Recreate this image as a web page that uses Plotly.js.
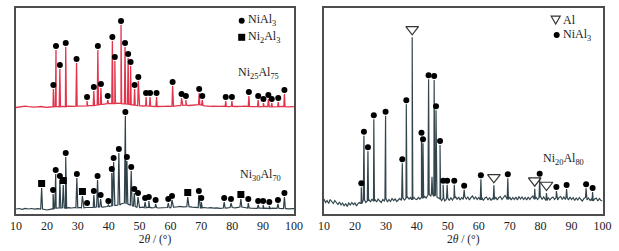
<!DOCTYPE html>
<html><head><meta charset="utf-8">
<script src="https://cdn.plot.ly/plotly-3.0.1.min.js"></script>
<style>html,body{margin:0;padding:0;background:#fff}#chart{width:619px;height:251px}</style>
</head><body><div id="chart"></div>
<script>
// ---------- DATA ----------
// Ni25Al75 (red, upper pattern of left panel): peak positions (2θ) / intensities (a.u.) / phase
const redPeakPos = [22.1,22.95,24.2,26.1,29.6,33.0,35.2,36.5,37.5,39.7,41.2,42.0,44.0,45.3,46.3,47.1,48.4,49.6,52.1,53.4,55.5,60.7,63.6,65.0,69.3,70.3,77.9,79.9,85.4,88.4,90.1,91.7,92.8,94.9,96.9];
const redPeakVal = [18,57,38,60,44,6,16,57,19,7,66,46,82,60,49,41,18,26,10,10,10,21,9,7,14,7,6,6,11,7,4,8,4,5,13];
const redPhase   = ['n','n','n','n','n','n','n','n','n','n','n','n','n','n','n','n','n','n','n','n','n','n','n','n','n','n','n','n','n','n','n','n','n','n','n'];
// background of Ni25Al75, 2θ = 10..100 step 1
const redBg = [-0.5,0,0.5,0.8,0.3,0,-0.2,0.2,0.5,0,-0.4,0,0.3,0.5,0.2,0.6,0.4,0.8,0.5,0.6,0.9,1,0.7,1.2,1.4,1.6,1.9,2.2,2.6,3,3.4,3.6,3.5,3.8,3.4,3.2,2.8,2.4,2,1.6,1.3,1,1.2,0.8,0.6,0.9,0.5,0.3,0.6,0.8,1,0.7,1.1,1.4,1.6,1.8,1.5,1.9,2.2,2.4,1.8,1.2,0.8,0.6,0.9,0.5,0.7,0.9,0.6,0.4,0.7,0.5,0.3,0.6,0.8,0.5,0.3,0.6,0.4,0.2,0.5,0.7,0.4,0.2,0.5,0.3,0.6,0.4,0.2,0.5,0.3];

// Ni30Al70 (dark, lower pattern of left panel)
const blkPeakPos = [18.3,22.0,22.85,24.2,25.3,26.1,29.7,31.5,33.0,35.2,36.4,37.4,39.9,41.0,41.6,43.3,45.4,45.9,47.3,48.3,49.5,51.8,53.0,55.2,59.3,60.5,65.6,69.2,70.0,77.4,79.6,82.8,85.2,88.4,90.0,92.0,94.8,96.9];
const blkPeakVal = [21,15,35,29,24,52,31,13,2,14,29,10,4,36,47,56,93,48,38,16,12,7,8,5,6,9,12,14,7,7,6,10,6,4,4,3,5,12];
const blkPhase   = ['s','n','n','n','s','n','n','s','n','n','n','n','n','n','n','n','n','n','n','n','n','n','n','n','n','n','s','n','n','n','n','s','n','n','n','n','n','n'];
const blkBg = [0,0.5,-0.3,0.6,0,0.5,-0.2,0.4,0,-0.5,-1,-0.4,0.3,0.8,1,1.2,0.8,1.3,1,1.5,1.2,1.6,1.2,1.5,1.8,1.5,2,2.2,1.8,2.3,2.5,3,3.5,4,5,6,5,4,2.5,2,1.5,1.8,1.3,1.6,1.2,1.5,1,1.4,1.1,1.5,1.2,1.8,2,2.6,2.2,2.8,2.3,1.8,2,1.5,1.2,1.5,1,1.3,0.8,1.2,0.7,1,0.8,1.2,1.5,1.2,1.8,2,1.5,1,0.8,1.1,0.7,1,0.6,0.9,0.5,0.8,0.4,0.7,0.3,0.6,0.2,0.5,0.3];

// Ni20Al80 (right panel)
const rgtPeakPos = [22.05,22.9,24.2,26.1,29.9,35.3,36.6,38.5,41.5,42.0,43.8,44.9,45.6,46.2,47.5,48.5,49.8,52.1,55.3,60.7,64.9,69.4,78.1,79.7,81.9,85.1,88.4,94.7,96.8];
const rgtPeakVal = [13.7,65.3,49.7,81.7,85.3,37.7,96.7,163.7,64.3,57.7,121.7,24.3,121,90.7,56,16.3,16.3,16.3,11.3,21.7,15.7,22.7,12.3,23.3,8,10,12,12.7,9];
const rgtPhase   = ['n','n','n','n','n','n','n','t','n','n','n','x','n','n','n','n','n','n','n','n','t','n','t','n','t','n','n','n','n'];
// background of Ni20Al80, 2θ = 10..100 step 0.5
const rgtBg = [2,-1.5,0.5,-2.5,1.5,-0.5,-2.5,0.5,-1.5,-3.5,-1,-4,-2,-5,-2.5,-5.5,-2,-4,-1.5,-3.5,-2,-5,-2.5,-1.5,-2.5,-0.5,1,-1.5,0,1.5,-1,2,0,1.5,-1,2,0,-1.5,1.5,0,2,-1,1.5,-0.5,2.5,0.5,2,-0.5,1,2.5,0.5,3,1,3,4,2,3.5,1.5,4,2,1.5,3.5,2,4,3,4.5,3,5.5,6.5,5,7,5,6,4,3,2,0.5,3,0,1.5,3,0.5,3.5,1,3,4.5,1.5,4,1,3.5,1.5,4.5,2,4,1,3.5,5,2,4,1.5,3.5,1,3.5,0.5,3,4,1,3.5,0.5,3,1.5,4,1,3.5,4.5,1.5,4,5.5,3,1.5,4,1,3.5,1.5,4,1,4.5,2,4,1.5,3.5,1,4,1.5,3.5,5,2,4,1.5,3.5,4.5,1.5,4,1.5,0.5,3.5,1,3,4,1.5,3.5,1,3.5,4.5,1.5,4,1.5,3.5,1,4,1.5,3.5,0.5,3,1,3.5,1.5,0,2.5,3.5,1,3,0.5,2.5,0,2,3,0,2.5,0.5,0];

const xTicks = [10,20,30,40,50,60,70,80,90,100];
const legendLeft  = ['NiAl<sub>3</sub>','Ni<sub>2</sub>Al<sub>3</sub>'];
const legendRight = ['Al','NiAl<sub>3</sub>'];
const sampleNames = ['Ni<sub>25</sub>Al<sub>75</sub>','Ni<sub>30</sub>Al<sub>70</sub>','Ni<sub>20</sub>Al<sub>80</sub>'];

// ---------- BUILD ----------
const W = 619, H = 251;
const px = x => x / W, py = y => 1 - y / H;
const FONT = 'Liberation Serif';

function pattern(x0, step, bg, pos, val, hw, offset) {
  const pts = bg.map((v, i) => [x0 + i * step, v]);
  pos.forEach((p, k) => {
    const near = bg[Math.min(bg.length - 1, Math.max(0, Math.round((p - x0) / step)))];
    pts.push([p - hw, near], [p, val[k]], [p + hw, near]);
  });
  pts.sort((a, b) => a[0] - b[0]);
  return { x: pts.map(d => d[0]), y: pts.map(d => d[1] + offset) };
}
function marks(pos, val, phase, code, offset, lift) {
  const x = [], y = [];
  pos.forEach((p, k) => { if (phase[k] === code) { x.push(p); y.push(val[k] + offset + lift); } });
  return { x, y };
}

const RED_OFF = 107, BLK_OFF = 5, RGT_OFF = 13;
const red = pattern(10, 1, redBg, redPeakPos, redPeakVal, 0.2, RED_OFF);
const blk = pattern(10, 1, blkBg, blkPeakPos, blkPeakVal, 0.3, BLK_OFF);
const rgt = pattern(10, 0.5, rgtBg, rgtPeakPos, rgtPeakVal, 0.2, RGT_OFF);

const traces = [
  { x: blk.x, y: blk.y, mode: 'lines', line: { color: '#2f4149', width: 1.2 }, xaxis: 'x', yaxis: 'y' },
  { x: red.x, y: red.y, mode: 'lines', line: { color: '#e4344c', width: 1.3 }, xaxis: 'x', yaxis: 'y' },
  { x: rgt.x, y: rgt.y, mode: 'lines', line: { color: '#33464e', width: 1.2 }, xaxis: 'x2', yaxis: 'y2' },
];
const dotStyle = { symbol: 'circle', size: 6, color: '#000' };
const sqStyle  = { symbol: 'square', size: 7, color: '#000' };
const triStyle = { symbol: 'triangle-down-open', size: 11, color: '#333', line: { width: 1.2, color: '#333' } };
[
  [marks(redPeakPos, redPeakVal, redPhase, 'n', RED_OFF, 4), dotStyle, 'x', 'y'],
  [marks(blkPeakPos, blkPeakVal, blkPhase, 'n', BLK_OFF, 4), dotStyle, 'x', 'y'],
  [marks(blkPeakPos, blkPeakVal, blkPhase, 's', BLK_OFF, 4.5), sqStyle, 'x', 'y'],
  [marks(rgtPeakPos, rgtPeakVal, rgtPhase, 'n', RGT_OFF, 4), dotStyle, 'x2', 'y2'],
  [marks(rgtPeakPos, rgtPeakVal, rgtPhase, 't', RGT_OFF, 8), triStyle, 'x2', 'y2'],
].forEach(([m, st, xa, ya]) => traces.push({ x: m.x, y: m.y, mode: 'markers', marker: st, xaxis: xa, yaxis: ya, cliponaxis: false }));

const xBase = {
  range: [10, 100], tickmode: 'linear', tick0: xTicks[0], dtick: xTicks[1] - xTicks[0], ticks: '',
  showline: true, mirror: true, linecolor: '#4d4d4d', linewidth: 1.5, showgrid: false, zeroline: false,
  tickfont: { family: FONT, size: 12, color: '#222' },
  title: { text: '2<i>θ</i> / (°)', font: { family: FONT, size: 11.5, color: '#222' }, standoff: 0 },
};
const yBase = {
  range: [0, 206.5], showticklabels: false, ticks: '', showgrid: false, zeroline: false,
  showline: true, mirror: true, linecolor: '#4d4d4d', linewidth: 1.5,
  domain: [py(214), py(7.5)],
};

const ann = (text, x, y) => ({ text, xref: 'paper', yref: 'paper', x: px(x), y: py(y), xanchor: 'left', yanchor: 'middle',
  showarrow: false, font: { family: FONT, size: 12, color: '#222' } });

const layout = {
  width: W, height: H, margin: { l: 0, r: 0, t: 0, b: 0 },
  paper_bgcolor: '#fff', plot_bgcolor: '#fff', showlegend: false,
  font: { family: FONT, size: 12 },
  xaxis: Object.assign({}, xBase, { domain: [px(16), px(294)], anchor: 'y' }),
  yaxis: Object.assign({}, yBase, { anchor: 'x' }),
  xaxis2: Object.assign({}, xBase, { domain: [px(324), px(602.5)], anchor: 'y2' }),
  yaxis2: Object.assign({}, yBase, { anchor: 'x2' }),
  annotations: [
    ann(legendLeft[0], 246, 20),
    ann(legendLeft[1], 246, 37.5),
    ann(sampleNames[0], 236, 73),
    ann(sampleNames[1], 238, 175),
    ann(legendRight[0], 561, 20),
    ann(legendRight[1], 561, 35.5),
    ann(sampleNames[2], 541, 159),
  ],
  shapes: [
    { type: 'circle', xref: 'paper', yref: 'paper', x0: px(238.7), x1: px(244.7), y0: py(17.7), y1: py(23.7), fillcolor: '#000', line: { width: 0 } },
    { type: 'rect', xref: 'paper', yref: 'paper', x0: px(238.2), x1: px(245.2), y0: py(33.8), y1: py(40.8), fillcolor: '#000', line: { width: 0 } },
    { type: 'path', xref: 'paper', yref: 'paper', path: `M ${px(551.2)} ${py(16.2)} L ${px(560.2)} ${py(16.2)} L ${px(555.7)} ${py(24)} Z`, line: { color: '#333', width: 1.2 } },
    { type: 'circle', xref: 'paper', yref: 'paper', x0: px(553.7), x1: px(559.7), y0: py(32), y1: py(38), fillcolor: '#000', line: { width: 0 } },
  ],
};

Plotly.newPlot('chart', traces, layout, { displayModeBar: false });
</script></body></html>
